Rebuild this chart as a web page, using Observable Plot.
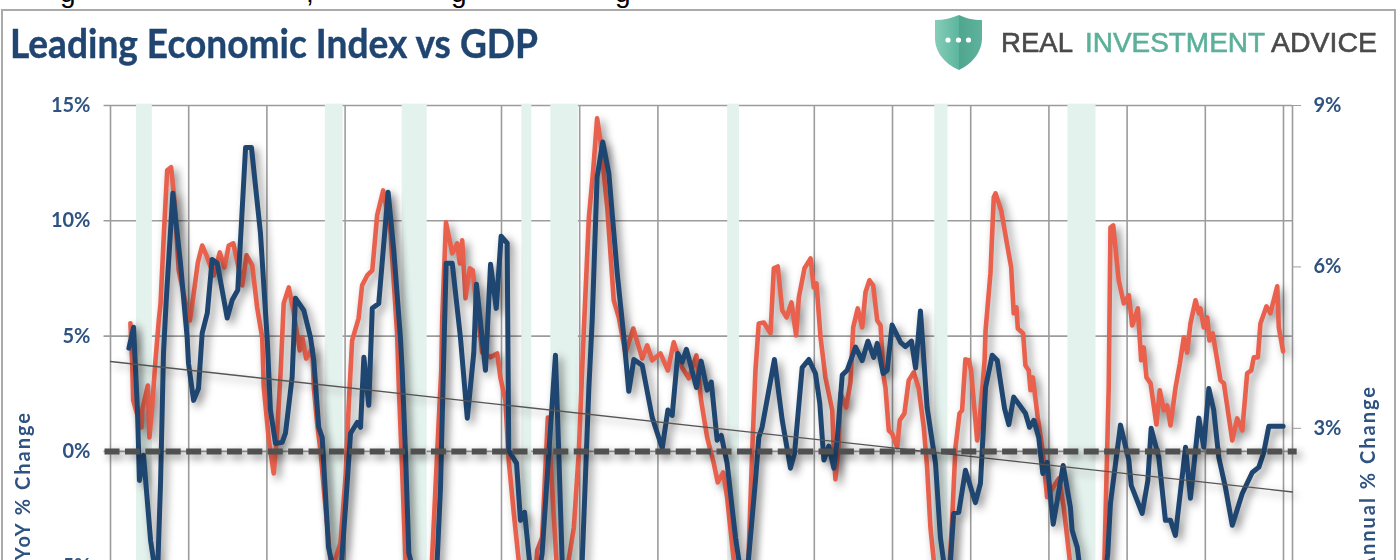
<!DOCTYPE html>
<html>
<head>
<meta charset="utf-8">
<script src="https://cdn.jsdelivr.net/npm/d3@7"></script>
<script src="https://cdn.jsdelivr.net/npm/@observablehq/plot@0.6"></script>
<style>
html,body{margin:0;padding:0;background:#fff;overflow:hidden}
#root{position:relative;width:1398px;height:560px;overflow:hidden;background:#fff}
#frame{position:absolute;left:1px;top:8.5px;width:1395px;height:600px;border:2px solid #aaa;box-sizing:border-box}
#root svg{position:absolute;left:0;top:0}
#chart svg{filter:blur(.5px)}
#overlay{filter:blur(.5px)}
.cut{position:absolute;font:28px "Liberation Sans",sans-serif;color:#000;line-height:1;top:-21px}
</style>
</head>
<body>
<div id="root">
  <div id="frame"></div>
  <div id="chart"></div>
  <span class="cut" style="left:60px">g</span>
  <span class="cut" style="left:306px">,</span>
  <span class="cut" style="left:451px">g</span>
  <span class="cut" style="left:615px">g</span>
  <svg id="overlay" width="1398" height="560" xmlns="http://www.w3.org/2000/svg">
    <defs>
      <linearGradient id="sl" x1="0" x2="1"><stop offset="0" stop-color="#86cdb8"/><stop offset="1" stop-color="#5db59e"/></linearGradient>
      <linearGradient id="sr" x1="0" x2="1"><stop offset="0" stop-color="#4fa58e"/><stop offset="1" stop-color="#5fb39c"/></linearGradient>
    </defs>
    <text x="10" y="58" textLength="528" lengthAdjust="spacingAndGlyphs" font-family="Lato" font-weight="700" font-size="41" fill="#1f4570" stroke="#1f4570" stroke-width=".4">Leading Economic Index vs GDP</text>
    <path d="M959 15 L959 70 C945 64 935 52 935 38 L935 20 C944 20 952 18 959 15Z" fill="url(#sl)"/>
    <path d="M959 15 L959 70 C972 64 982 52 982 38 L982 20 C973 20 965 18 959 15Z" fill="url(#sr)"/>
    <circle cx="948" cy="40" r="2.6" fill="#fff"/><circle cx="958.5" cy="40" r="2.6" fill="#fff"/><circle cx="968.5" cy="40" r="2.6" fill="#fff"/>
    <g font-family="Liberation Sans" font-size="28.5" stroke-width=".6">
      <text x="1001" y="52" textLength="72" lengthAdjust="spacingAndGlyphs" fill="#4a4a4a" stroke="#4a4a4a">REAL</text>
      <text x="1085" y="52" textLength="180" lengthAdjust="spacingAndGlyphs" fill="#5bb09a" stroke="#5bb09a">INVESTMENT</text>
      <text x="1271" y="52" textLength="106" lengthAdjust="spacingAndGlyphs" fill="#4a4a4a" stroke="#4a4a4a">ADVICE</text>
    </g>
    <g font-family="Lato" font-weight="700" font-size="20" fill="#2f5380" letter-spacing="2" text-anchor="end">
      <text transform="translate(30,411) rotate(-90)">YoY % Change</text>
      <text transform="translate(1375,385) rotate(-90)">Annual % Change</text>
    </g>
  </svg>
</div>
<script>
// Year gridlines and axis ticks
const gridYears = [1959,1963,1967,1971,1975,1979,1983,1987,1991,1995,1999,2003,2007,2011,2015,2019];
const leftTicks = [15,10,5,0,-5];
const gridValues = [15,10,5,0];
const rightTicks = [9,6,3];

// Recessions (shaded bands)
const recessionStart = [1960.33,1969.99,1973.92,1980.04,1981.52,1990.57,2001.16,2007.97];
const recessionEnd   = [1961.14,1970.90,1975.20,1980.55,1982.93,1991.17,2001.84,2009.41];

// Leading Economic Index, YoY %
const leiYears = [1960.02,1960.11,1960.16,1960.38,1960.59,1960.62,1960.91,1960.99,1961.13,1961.30,1961.47,1961.56,1961.73,1961.90,1962.10,1962.27,1962.49,1962.67,1962.95,1963.06,1963.23,1963.47,1963.69,1963.95,1964.28,1964.59,1964.83,1965.05,1965.28,1965.56,1965.74,1965.96,1966.25,1966.50,1966.76,1966.84,1967.10,1967.35,1967.53,1967.70,1967.86,1968.12,1968.35,1968.68,1968.81,1969.01,1969.32,1969.40,1969.57,1969.74,1969.95,1970.25,1970.51,1970.76,1971.02,1971.19,1971.36,1971.69,1971.87,1972.13,1972.39,1972.64,1972.95,1973.32,1973.66,1973.75,1973.92,1974.09,1974.45,1975.37,1975.79,1975.92,1975.97,1976.16,1976.48,1976.73,1976.87,1976.99,1977.16,1977.38,1977.53,1977.67,1977.93,1978.01,1978.44,1978.78,1978.95,1979.20,1979.37,1979.63,1979.88,1980.23,1980.74,1980.83,1981.08,1981.37,1981.59,1981.81,1982.27,1982.70,1982.95,1983.21,1983.47,1983.69,1983.89,1984.06,1984.41,1984.74,1985.00,1985.34,1985.74,1986.20,1986.45,1986.71,1987.13,1987.51,1987.81,1988.24,1988.58,1988.97,1989.21,1989.52,1989.86,1990.06,1990.34,1990.54,1990.88,1991.33,1991.63,1991.82,1991.99,1992.16,1992.42,1992.76,1992.93,1993.13,1993.36,1993.58,1993.83,1994.07,1994.21,1994.50,1994.81,1994.97,1995.11,1995.32,1995.57,1995.92,1996.00,1996.08,1996.25,1996.34,1996.63,1996.85,1996.99,1997.22,1997.45,1997.62,1997.82,1998.01,1998.22,1998.39,1998.55,1998.64,1998.81,1998.98,1999.24,1999.37,1999.61,1999.83,2000.09,2000.34,2000.60,2000.77,2000.94,2001.11,2001.56,2001.86,2002.05,2002.22,2002.43,2002.56,2002.73,2002.90,2003.02,2003.33,2003.47,2003.71,2003.76,2004.01,2004.18,2004.27,2004.56,2004.87,2005.07,2005.20,2005.34,2005.41,2005.68,2005.80,2005.97,2006.06,2006.18,2006.43,2006.66,2006.91,2007.34,2007.51,2007.76,2008.07,2008.62,2009.38,2009.84,2010.06,2010.15,2010.29,2010.57,2010.83,2011.09,2011.26,2011.55,2011.72,2011.85,2011.99,2012.20,2012.50,2012.67,2012.88,2013.05,2013.22,2013.47,2013.70,2013.90,2014.07,2014.24,2014.50,2014.67,2014.75,2014.92,2015.10,2015.21,2015.38,2015.78,2015.95,2016.38,2016.63,2016.89,2017.14,2017.35,2017.48,2017.69,2017.82,2018.13,2018.33,2018.68,2018.76,2018.98];
const leiValues = [5.56,3.82,2.21,1.56,1.04,1.78,2.86,0.61,1.91,3.95,5.68,6.42,9.45,12.19,12.32,10.89,7.85,7.11,5.99,5.68,6.68,8.20,8.93,8.41,7.63,8.63,7.98,8.93,9.02,7.94,7.20,8.50,8.07,6.25,4.94,2.78,0.48,-0.95,0.91,3.38,6.42,7.11,6.12,4.38,4.94,4.03,4.47,2.78,1.21,0.04,-1.99,-4.73,-4.64,-3.99,-1.13,2.08,4.81,5.77,7.20,7.63,7.85,10.24,11.32,9.58,5.12,2.78,-0.82,-4.73,-6.03,-6.03,1.34,3.51,5.81,9.93,8.59,9.02,8.15,9.15,6.64,7.94,7.85,6.68,4.94,4.29,4.08,4.25,3.17,2.21,-0.39,-2.69,-4.73,-5.59,-5.38,-4.29,-3.73,1.47,-1.56,-4.73,-5.59,-3.30,-0.09,5.25,10.15,12.19,14.44,13.49,10.58,6.55,5.81,4.25,5.33,4.03,4.60,3.95,4.25,3.51,4.73,3.64,3.17,4.16,2.21,0.61,-0.52,-1.34,-0.91,-1.99,-4.73,-6.03,-4.73,-0.09,3.51,5.55,5.59,5.12,7.94,8.02,6.12,5.81,6.46,5.03,6.68,7.94,8.37,7.11,7.29,4.94,3.21,1.78,-0.09,-1.21,0.35,2.52,1.91,2.99,5.38,6.20,5.38,6.90,7.42,7.20,5.68,5.46,3.21,2.78,0.91,0.78,0.17,1.34,1.65,3.08,3.43,2.73,1.04,-0.69,-3.30,-4.73,-6.46,-5.81,-2.99,0.17,1.65,1.78,3.99,3.95,3.51,0.48,1.47,3.95,5.25,7.72,11.02,11.19,10.45,8.93,7.98,5.99,6.25,5.33,5.12,3.73,3.51,2.65,3.21,1.47,0.17,-1.99,-1.39,-1.17,-2.43,-4.73,-6.46,-6.90,-4.73,2.78,9.71,9.80,7.42,6.42,6.77,5.46,6.20,3.95,4.51,3.21,2.95,1.17,2.65,1.78,1.99,1.13,2.73,3.82,4.94,4.29,5.55,6.55,5.99,6.20,5.38,5.81,4.81,5.12,3.08,2.95,0.48,1.43,0.91,3.38,3.51,4.08,4.08,5.55,6.29,5.99,7.16,5.38,4.34];

// GDP, annual % change (right-hand axis)
const gdpYears = [1959.94,1960.18,1960.38,1960.48,1960.69,1961.05,1961.20,1961.30,1961.43,1961.56,1961.71,1961.85,1962.19,1962.58,1962.92,1962.99,1963.25,1963.50,1963.69,1963.95,1964.20,1964.46,1964.97,1965.22,1965.51,1965.91,1966.21,1966.67,1967.02,1967.18,1967.44,1967.78,1967.95,1968.29,1968.46,1968.89,1969.23,1969.40,1969.65,1969.83,1970.15,1970.41,1970.80,1971.02,1971.28,1971.62,1971.79,1971.96,1972.21,1972.39,1972.72,1973.20,1973.49,1973.83,1973.92,1974.09,1974.26,1974.69,1975.71,1975.88,1976.05,1976.17,1976.48,1976.90,1977.25,1977.58,1977.72,1978.18,1978.44,1978.73,1978.98,1979.29,1979.37,1979.77,1979.97,1980.18,1980.48,1980.84,1981.08,1981.42,1981.76,1981.93,1982.10,1982.38,1983.13,1983.47,1983.64,1983.89,1984.18,1984.49,1984.92,1985.26,1985.51,1985.77,1986.20,1986.71,1987.22,1987.51,1987.73,1988.02,1988.24,1988.46,1988.97,1989.21,1989.52,1989.73,1990.03,1990.24,1990.54,1990.97,1991.22,1991.63,1991.99,1992.16,1992.33,1992.96,1993.36,1993.78,1993.99,1994.38,1994.72,1995.06,1995.28,1995.49,1995.74,1996.00,1996.17,1996.43,1996.68,1997.11,1997.45,1997.74,1998.04,1998.22,1998.52,1998.73,1998.98,1999.41,1999.66,1999.97,2000.18,2000.43,2000.77,2001.20,2001.45,2001.71,2001.97,2002.13,2002.39,2002.73,2003.24,2003.50,2003.76,2004.10,2004.36,2004.73,2004.95,2005.20,2005.80,2006.01,2006.23,2006.48,2006.69,2006.91,2007.22,2007.73,2008.10,2008.19,2008.45,2008.62,2009.13,2009.64,2010.01,2010.15,2010.66,2011.09,2011.21,2011.77,2012.06,2012.23,2012.62,2012.96,2013.22,2013.47,2013.99,2014.24,2014.67,2014.92,2015.18,2015.43,2015.69,2016.03,2016.38,2016.89,2017.40,2017.74,2017.99,2018.25,2018.98];
const gdpValues = [4.49,4.88,3.34,2.03,2.50,0.92,0.55,0.08,0.55,1.98,4.39,5.38,7.37,6.07,4.69,4.21,3.52,3.74,4.77,5.14,6.14,6.07,5.05,5.38,5.57,8.22,8.22,6.63,4.64,3.34,2.72,2.74,2.91,3.95,5.42,5.19,4.69,4.26,3.02,2.83,0.79,0.36,0.42,1.53,2.91,3.11,3.02,4.32,3.43,5.23,5.32,7.39,6.31,4.69,4.08,2.54,0.68,0.04,0.55,1.90,4.39,6.07,6.07,4.69,3.19,4.39,5.68,4.08,6.05,5.23,6.57,6.44,2.59,2.35,1.29,1.44,0.36,0.12,0.68,2.54,4.36,2.54,0.55,-0.01,0.55,3.76,5.01,7.67,8.32,7.74,5.88,4.69,3.69,4.28,4.17,3.20,2.63,3.34,3.24,4.39,4.23,4.47,3.76,4.25,3.71,3.86,2.78,2.87,2.35,0.97,0.36,0.55,2.03,2.83,3.02,4.28,3.15,2.26,2.54,4.13,4.28,4.02,3.47,2.41,2.67,2.26,2.78,3.99,4.08,4.51,4.26,4.62,4.32,4.58,4.02,4.08,4.92,4.60,4.52,4.62,4.12,5.18,3.39,2.35,0.97,0.27,0.55,1.42,1.44,2.22,1.62,1.98,3.76,4.36,4.26,3.37,3.07,3.58,3.28,3.02,3.15,2.83,2.16,2.37,1.22,2.31,1.53,1.10,0.79,0.30,-0.94,-0.57,0.68,1.61,3.06,2.41,1.94,1.42,2.03,3.00,2.46,1.29,1.29,1.01,2.65,1.70,3.19,2.65,3.74,3.34,2.46,1.90,1.20,1.79,2.18,2.28,2.55,3.04,3.04];

// Long-term trend of the LEI
const trendYears = [1959, 2019.46];
const trendValues = [3.9, -1.76];

// Right-hand percent mapped onto the left-hand scale
const toLeft = g => 7 * g / 3 - 6;

const lei = leiYears.map((year, i) => ({year, value: leiValues[i]}));
const gdp = gdpYears.map((year, i) => ({year, value: toLeft(gdpValues[i])}));
const trend = trendYears.map((year, i) => ({year, value: trendValues[i]}));
const recessions = recessionStart.map((start, i) => ({start, end: recessionEnd[i]}));

const xMin = 1959, xMax = 2019.46, yTop = 15, yBottom = -4.73;
const grey = "#9c9c9c", navy = "#2f5380";

const plot = Plot.plot({
  width: 1398,
  height: 560,
  marginLeft: 110, marginRight: 106, marginTop: 105, marginBottom: 0,
  style: {background: "transparent", fontFamily: "Lato", overflow: "hidden"},
  x: {domain: [xMin, xMax], axis: null},
  y: {domain: [yBottom, yTop], axis: null},
  marks: [
    Plot.ruleY(gridValues, {x1: 1958.67, x2: xMax, stroke: grey, strokeWidth: 1.6}),
    Plot.ruleX(gridYears, {y1: yBottom, y2: yTop, stroke: grey, strokeWidth: 1.6}),
    Plot.ruleX([xMax], {y1: yBottom, y2: yTop, stroke: grey, strokeWidth: 1.6}),
    Plot.rectX(recessions, {x1: "start", x2: "end", y1: yBottom, y2: 15.06, fill: "#e4f2ee"}),
    Plot.line(lei, {x: "year", y: "value", stroke: "#e9604c", strokeWidth: 4.6, strokeLinejoin: "round"}),
    Plot.line(gdp, {x: "year", y: "value", stroke: "#1f4670", strokeWidth: 5, strokeLinejoin: "round"}),
    Plot.line(trend, {x: "year", y: "value", stroke: "#555", strokeWidth: 1.3}),
    Plot.ruleY([0], {x1: 1958.72, x2: 2019.7, stroke: "#505050", strokeWidth: 6, strokeDasharray: "15,5.4"}),
    Plot.axisY(leftTicks, {anchor: "left", label: null, tickSize: 0, tickPadding: 20, fontSize: 20, fontWeight: 700, fill: navy, tickFormat: d => d + "%"}),
    Plot.axisY(rightTicks.map(toLeft), {anchor: "right", label: null, tickSize: 8, tickPadding: 13, stroke: grey, fontSize: 20, fontWeight: 700, fill: navy, tickFormat: d => Math.round((d + 6) * 3 / 7) + "%"})
  ]
});
d3.select(plot).selectAll('g[aria-label="line"], g[aria-label="rule"][stroke-dasharray]').style("filter", "drop-shadow(4px 4px 4px rgba(0,0,0,.45))");
document.getElementById("chart").append(plot);
</script>
</body>
</html>
